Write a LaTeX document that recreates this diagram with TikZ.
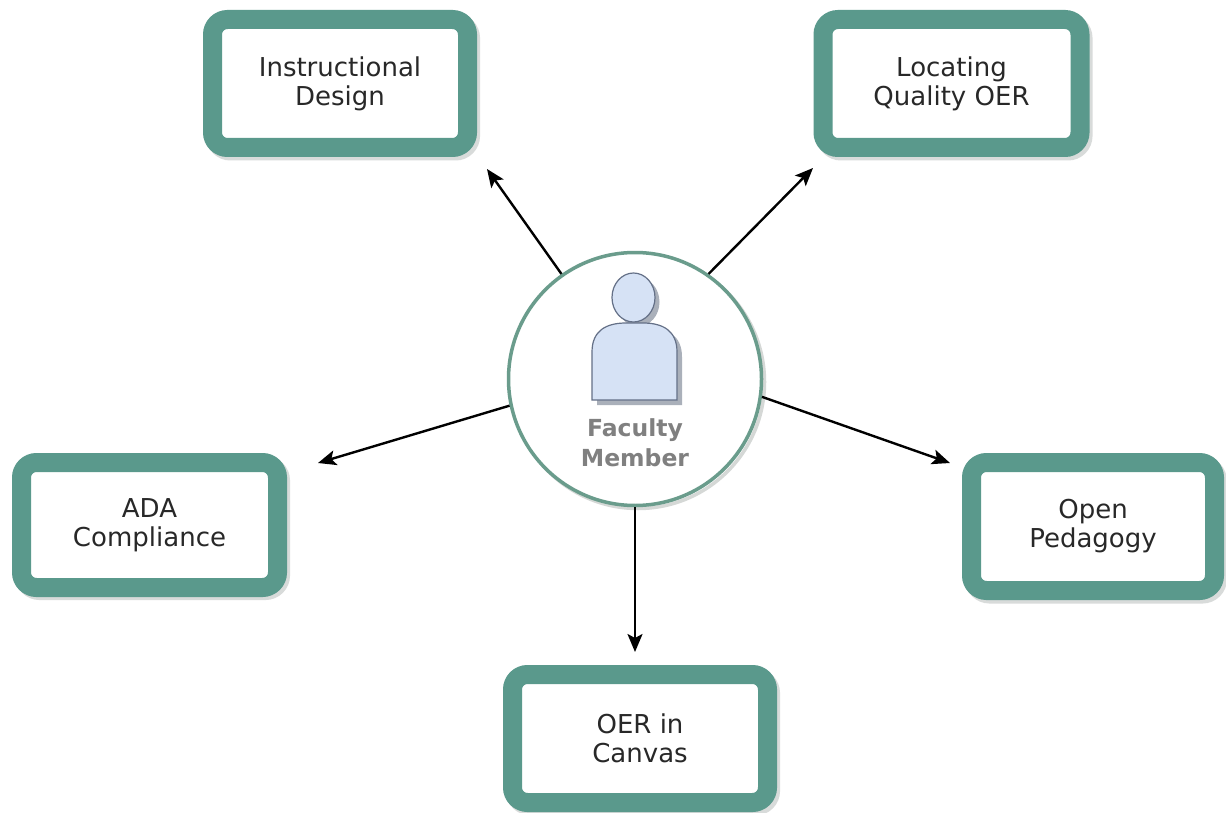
\documentclass[tikz,border=0pt]{standalone}
\usepackage{fontspec}
\setmainfont{DejaVu Sans}
\usetikzlibrary{arrows.meta}
\definecolor{tealb}{RGB}{90,153,140}
\definecolor{circ}{RGB}{106,156,140}
\definecolor{shad}{RGB}{185,190,188}
\definecolor{txt}{RGB}{40,40,40}
\definecolor{fmtxt}{RGB}{128,128,128}
\definecolor{pfill}{RGB}{214,226,245}
\definecolor{pdraw}{RGB}{100,112,135}
\definecolor{pshad}{RGB}{170,176,186}
\begin{document}
\begin{tikzpicture}[x=1pt,y=-1pt,
  topicbox/.style={draw=tealb, line width=19pt, rounded corners=15pt, fill=white,
    minimum width=#1, minimum height=128pt, inner sep=0pt, align=center,
    text=txt, font=\fontsize{26}{29}\selectfont},
  topicbox/.default=255pt,
  boxshadow/.style={draw=shad, line width=19pt, rounded corners=15pt, opacity=.55,
    minimum width=#1, minimum height=128pt, inner sep=0pt},
  boxshadow/.default=255pt,
  conn/.style={line width=2.4pt, black, -{Stealth[length=18pt,width=15pt,inset=4pt]}}
]
\useasboundingbox[fill=white] (0,0) rectangle (1226,813);

% shadows of boxes
\node[boxshadow] (idS) at (343,87) {};
\node[boxshadow=257pt] (lqS) at (954.5,87) {};
\node[boxshadow=256pt, minimum height=125pt] (adaS) at (152.5,528) {};
\node[boxshadow=243pt] (opS) at (1096,530) {};
\node[boxshadow] (oerS) at (643,742) {};

% boxes
\node[topicbox] (id) at (340,83.5) {Instructional\\Design};
\node[topicbox=257pt] (lq) at (951.5,83.5) {Locating\\Quality OER};
\node[topicbox=256pt, minimum height=125pt] (ada) at (149.5,525) {ADA\\Compliance};
\node[topicbox=243pt] (op) at (1093,526.5) {Open\\Pedagogy};
\node[topicbox] (oer) at (640,738.5) {OER in\\Canvas};

% central circle
\node[circle, draw=shad, line width=3.5pt, opacity=.6, minimum size=253pt] (fmS) at (638,382) {};
\node[circle, draw=circ, line width=3.5pt, fill=white, minimum size=253pt] (fm) at (635,379) {};

% person icon shadow
\fill[pshad] (597,405) -- (597,357) .. controls (597,335) and (612,328) .. (631,328)
  -- (648,328) .. controls (667,328) and (682,335) .. (682,357) -- (682,405) -- cycle;
\fill[pshad] (638,302) ellipse [x radius=21.5pt, y radius=24.5pt];
% person icon
\draw[pdraw, fill=pfill, line width=1.2pt] (592,400) -- (592,352) .. controls (592,330) and (607,323) .. (626,323)
  -- (643,323) .. controls (662,323) and (677,330) .. (677,352) -- (677,400) -- cycle;
\draw[pdraw, fill=pfill, line width=1.2pt] (633.5,297.5) ellipse [x radius=21.5pt, y radius=24.5pt];

\node[align=center, text=fmtxt, font=\bfseries\fontsize{23.5}{30}\selectfont] (fmlabel) at (635,443) {Faculty\\Member};

% arrow tips
\coordinate (tid) at (487,169);
\coordinate (tlq) at (813,168);
\coordinate (tada) at (318,463);
\coordinate (top) at (950,463);
\coordinate (toer) at (635,652);

\draw[conn] (fm.125) -- (tid);
\draw[conn] (fm.55) -- (tlq);
\draw[conn] (fm.192) -- (tada);
\draw[conn] (fm.-8) -- (top);
\draw[conn] (fm.south) -- (toer);
\end{tikzpicture}
\end{document}
